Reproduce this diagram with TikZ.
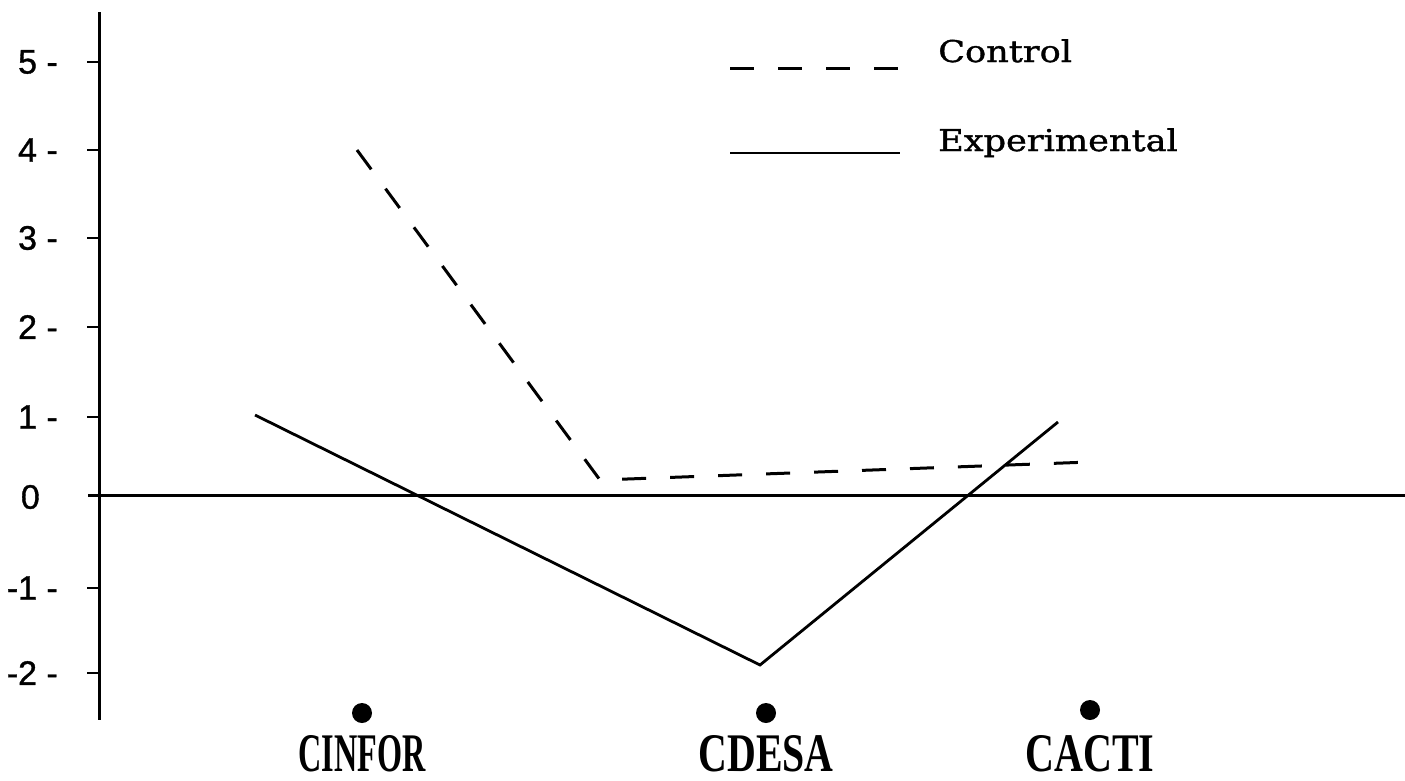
\documentclass[tikz,border=0pt]{standalone}
\usepackage{fontspec}
\usepackage{graphicx}
\newfontfamily\ticksf[FakeBold=1]{Liberation Sans}
\newfontfamily\legendsf[FakeStretch=1.17,FakeBold=1.2]{DejaVu Serif}
\newfontfamily\catsf{Liberation Serif}
\begin{document}
\begin{tikzpicture}[x=1pt,y=-1pt,
  axisline/.style={line width=3pt},
  tickmark/.style={line width=2.4pt},
  ticklab/.style={anchor=east,inner sep=0pt,font=\ticksf\fontsize{34}{38}\selectfont},
  ctrl/.style={line width=3pt,dash pattern=on 24pt off 24pt},
  expt/.style={line width=2.8pt},
  legtext/.style={anchor=base west,inner sep=0pt,font=\legendsf\fontsize{30}{34}\selectfont},
  catdot/.style={circle,fill=black,draw=none,minimum size=20pt,inner sep=0pt},
  catlab/.style={anchor=base,inner sep=0pt,font=\catsf\bfseries}
]
\useasboundingbox (0,0) rectangle (1405,780);
% axes
\coordinate (ytop) at (99,12);
\coordinate (ybot) at (99,720);
\coordinate (xleft) at (88,495);
\coordinate (xright) at (1405,495);
\draw[axisline] (ytop) -- (ybot);
\draw[axisline] (xleft) -- (xright);
% ticks
\foreach \v/\yy in {5/62,4/150,3/238,2/327,1/417,-1/588,-2/673}{
  \draw[tickmark] (87,\yy) -- (99,\yy);
  \node[ticklab] (tick\v) at (58,\yy) {\v\ -};
}
\node[ticklab] (tick0) at (40,497) {0};
% legend
\coordinate (lc1) at (730,68);
\coordinate (lc2) at (900,68);
\coordinate (le1) at (730,153);
\coordinate (le2) at (900,153);
\draw[ctrl] (lc1) -- (lc2);
\draw[expt] (le1) -- (le2);
\node[legtext] (legc) at (938,62) {Control};
\node[legtext] (lege) at (938,151) {Experimental};
% data
\coordinate (c1) at (357,150);
\coordinate (c2) at (600,480);
\coordinate (c3) at (1090,462);
\coordinate (e1) at (255,415);
\coordinate (e2) at (760,665);
\coordinate (e3) at (1058,422);
\draw[ctrl] (c1) -- (c2) -- (c3);
\draw[expt] (e1) -- (e2) -- (e3);
% categories
\node[catdot] (d1) at (362,713) {};
\node[catdot] (d2) at (766,713) {};
\node[catdot] (d3) at (1090,710) {};
\node[catlab] (n1) at (362,771) {\resizebox{127pt}{36pt}{CINFOR}};
\node[catlab] (n2) at (766,771) {\resizebox{135pt}{36pt}{CDESA}};
\node[catlab] (n3) at (1090,771) {\resizebox{129pt}{36pt}{CACTI}};
\end{tikzpicture}
\end{document}
